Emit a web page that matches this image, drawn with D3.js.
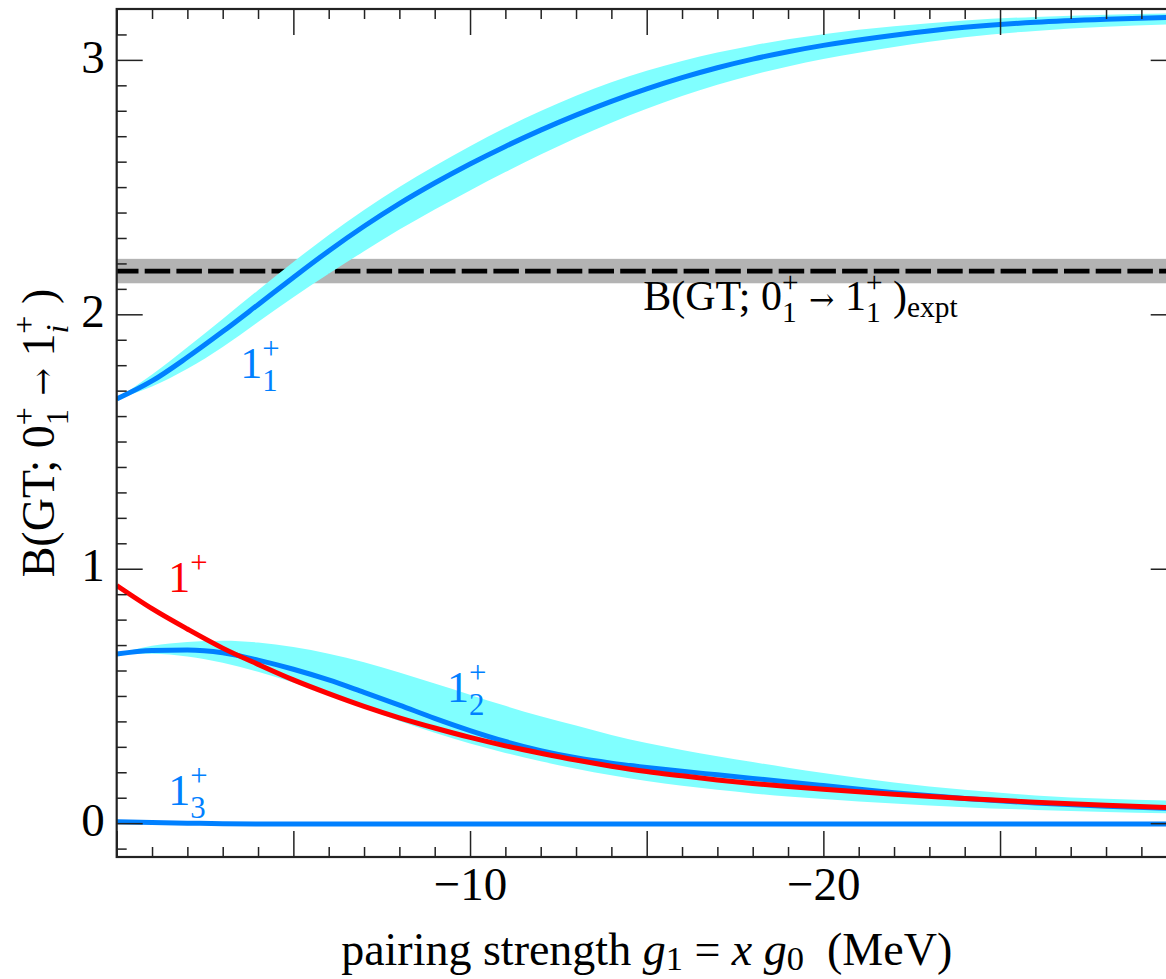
<!DOCTYPE html>
<html><head><meta charset="utf-8">
<script src="https://cdn.jsdelivr.net/npm/d3@7"></script>
<style>body{margin:0;background:#fff}svg{display:block}text{white-space:pre}</style>
</head><body><script>
// ---- data ----
const gValues = [0,-1,-2,-3,-4,-5,-6,-7,-8,-9,-10,-11,-12,-13,-14,-15,-16,-17,-18,-19,-20,-22,-24,-26,-28,-30];
// 1_1^+ (center, band upper, band lower)
const b11 = [1.667,1.738,1.831,1.932,2.038,2.145,2.249,2.346,2.435,2.516,2.591,2.660,2.724,2.783,2.837,2.886,2.930,2.969,3.003,3.032,3.057,3.097,3.128,3.148,3.160,3.168];
const b11Up = [1.667,1.763,1.871,1.982,2.095,2.206,2.312,2.410,2.500,2.583,2.661,2.733,2.799,2.859,2.912,2.957,2.996,3.029,3.057,3.081,3.101,3.132,3.155,3.169,3.177,3.183];
const b11Lo = [1.667,1.716,1.786,1.872,1.970,2.067,2.159,2.248,2.333,2.412,2.487,2.559,2.628,2.693,2.753,2.808,2.858,2.902,2.941,2.974,3.003,3.051,3.089,3.114,3.130,3.141];
// 1_2^+
const b12 = [0.665,0.679,0.681,0.670,0.641,0.605,0.563,0.514,0.464,0.412,0.364,0.321,0.285,0.257,0.236,0.219,0.204,0.190,0.176,0.162,0.148,0.120,0.097,0.079,0.066,0.057];
const b12Up = [0.665,0.697,0.712,0.717,0.710,0.692,0.666,0.632,0.592,0.549,0.505,0.461,0.420,0.384,0.347,0.315,0.288,0.263,0.240,0.218,0.197,0.160,0.131,0.109,0.096,0.088];
const b12Lo = [0.665,0.666,0.655,0.630,0.595,0.553,0.505,0.453,0.402,0.355,0.313,0.276,0.243,0.214,0.188,0.166,0.147,0.131,0.117,0.105,0.095,0.077,0.063,0.052,0.044,0.038];
// 1_3^+
const b13 = [0.006,0.003,0.000,-0.002,-0.003,-0.003,-0.003,-0.003,-0.003,-0.003,-0.003,-0.003,-0.003,-0.003,-0.003,-0.003,-0.003,-0.003,-0.003,-0.003,-0.003,-0.003,-0.003,-0.003,-0.003,-0.003];
// 1^+ (red)
const bRed = [0.934,0.843,0.763,0.688,0.624,0.563,0.509,0.459,0.414,0.374,0.337,0.304,0.275,0.248,0.224,0.203,0.186,0.170,0.156,0.144,0.133,0.114,0.097,0.082,0.070,0.060];
// experiment
const bExpt = 2.17, bExptErr = 0.048;
// ticks
const xMajorTicks = [0,-5,-10,-15,-20,-25,-30];
const xLabelTicks = [-10,-20];
const yMajorTicks = [0,1,2,3];

// ---- layout ----
const W=1166,H=979;
const L=116.7,R=1176.7,T=9,B=857;
const FONT="'Liberation Serif','Times New Roman',serif";
const svg=d3.select('body').append('svg').attr('width',W).attr('height',H)
  .style('font-family',FONT);
const x=d3.scaleLinear().domain([0,-30]).range([L,R]);
const y=d3.scaleLinear().domain([-0.133,3.2]).range([B,T]);

svg.append('clipPath').attr('id','clip').append('rect')
  .attr('x',L).attr('y',T).attr('width',R-L).attr('height',B-T);
const plot=svg.append('g').attr('clip-path','url(#clip)');

const rows=(c,u,l)=>gValues.map((g,i)=>({g,c:c[i],u:u?u[i]:null,l:l?l[i]:null}));

// experimental band + dashed line
plot.append('rect').attr('x',L).attr('width',R-L)
  .attr('y',y(bExpt+bExptErr)).attr('height',y(bExpt-bExptErr)-y(bExpt+bExptErr))
  .attr('fill','#b3b3b3');
plot.append('line').attr('x1',L-3.7).attr('x2',R).attr('y1',y(bExpt)).attr('y2',y(bExpt))
  .attr('stroke','#000').attr('stroke-width',4.8).attr('stroke-dasharray','25.5,6.2');

const area=d3.area().x(d=>x(d.g)).y0(d=>y(d.l)).y1(d=>y(d.u)).curve(d3.curveMonotoneX);
const line=d3.line().x(d=>x(d.g)).y(d=>y(d.c)).curve(d3.curveMonotoneX);
const CYAN='#80ffff',BLUE='#0080ff',RED='#ff0000';

plot.append('path').datum(rows(b11,b11Up,b11Lo)).attr('d',area).attr('fill',CYAN);
plot.append('path').datum(rows(b12,b12Up,b12Lo)).attr('d',area).attr('fill',CYAN);
plot.append('path').datum(rows(b13)).attr('d',line).attr('fill','none').attr('stroke',BLUE).attr('stroke-width',5);
plot.append('path').datum(rows(b12)).attr('d',line).attr('fill','none').attr('stroke',BLUE).attr('stroke-width',5);
plot.append('path').datum(rows(bRed)).attr('d',line).attr('fill','none').attr('stroke',RED).attr('stroke-width',5);
plot.append('path').datum(rows(b11)).attr('d',line).attr('fill','none').attr('stroke',BLUE).attr('stroke-width',5);

// ---- axes ----
const TF=47;
const xMinor=d3.range(0,-31,-1).filter(v=>v%5!==0);
const yMinor=d3.range(-1,33).map(v=>v/10).filter(v=>Math.abs(v-Math.round(v))>1e-6 && v>-0.133 && v<3.2);
function style(g){
  g.select('.domain').remove();
  g.selectAll('.tick line').attr('stroke','#222').attr('stroke-width',1.5);
  g.selectAll('text').attr('font-size',TF).attr('font-family',FONT).attr('fill','#000');
}
const fmtX=d=>xLabelTicks.includes(d)?d3.format('d')(d):'';
svg.append('g').attr('transform',`translate(0,${B})`)
  .call(d3.axisBottom(x).tickValues(xMajorTicks).tickSize(-26).tickPadding(10).tickFormat(fmtX)).call(style);
svg.append('g').attr('transform',`translate(0,${B})`)
  .call(d3.axisBottom(x).tickValues(xMinor).tickSize(-10).tickFormat('')).call(style);
svg.append('g').attr('transform',`translate(0,${T})`)
  .call(d3.axisTop(x).tickValues(xMajorTicks).tickSize(-26).tickFormat('')).call(style);
svg.append('g').attr('transform',`translate(0,${T})`)
  .call(d3.axisTop(x).tickValues(xMinor).tickSize(-10).tickFormat('')).call(style);
const yl=svg.append('g').attr('transform',`translate(${L},0)`)
  .call(d3.axisLeft(y).tickValues(yMajorTicks).tickSize(-26).tickPadding(12).tickFormat(d3.format('d'))).call(style);
yl.selectAll('text').attr('dy','0.26em');
svg.append('g').attr('transform',`translate(${L},0)`)
  .call(d3.axisLeft(y).tickValues(yMinor).tickSize(-10).tickFormat('')).call(style);
svg.append('g').attr('transform',`translate(${R},0)`)
  .call(d3.axisRight(y).tickValues(yMajorTicks).tickSize(-26).tickFormat('')).call(style);
svg.append('g').attr('transform',`translate(${R},0)`)
  .call(d3.axisRight(y).tickValues(yMinor).tickSize(-10).tickFormat('')).call(style);

// frame
svg.append('rect').attr('x',L).attr('y',T).attr('width',R-L).attr('height',B-T)
  .attr('fill','none').attr('stroke','#222').attr('stroke-width',2.2);

// ---- rich text helper ----
function rich(t,parts,fs){
  let cur=0;
  parts.forEach(p=>{
    let off=0,size=fs;
    if(p.s==='sub'){off=fs*(p.sh!=null?p.sh:0.3);size=fs*(p.sz||0.7);}
    if(p.s==='sup'){off=-fs*0.42;size=fs*0.7;}
    if(p.sz && !p.s) size=fs*p.sz;
    const ts=t.append('tspan').attr('dy',off-cur).attr('font-size',size).text(p.t);
    if(p.dx) ts.attr('dx',p.dx*fs);
    if(p.it) ts.attr('font-style','italic');
    if(p.ff) ts.attr('font-family',p.ff);
    cur=off;
  });
}
const ARROW={t:'→',ff:"'DejaVu Serif',serif",sz:0.72};
const AF=44;
function label(gv,val,color,parts,fs){
  const t=svg.append('text').attr('x',x(gv)).attr('y',y(val)).attr('fill',color).attr('font-size',fs||AF);
  rich(t,parts,fs||AF);
  return t;
}
label(-3.5,1.75,BLUE,[{t:'1'},{t:'1',s:'sub'},{t:'+',s:'sup',dx:-0.35}]);
label(-1.46,0.91,RED,[{t:'1'},{t:'+',s:'sup'}]);
label(-9.35,0.477,BLUE,[{t:'1'},{t:'2',s:'sub'},{t:'+',s:'sup',dx:-0.35}]);
label(-1.46,0.072,BLUE,[{t:'1'},{t:'3',s:'sub'},{t:'+',s:'sup',dx:-0.35}]);
label(-14.9,2.018,'#000',[{t:'B(GT; 0'},{t:'1',s:'sub'},{t:'+',s:'sup',dx:-0.35},{t:' '},ARROW,{t:' 1'},{t:'1',s:'sub'},{t:'+',s:'sup',dx:-0.35},{t:' )'},{t:'expt',s:'sub',sh:0.18}],42);

// axis titles
const xt=svg.append('text').attr('x',(L+R)/2).attr('y',965).attr('text-anchor','middle').attr('font-size',46);
rich(xt,[{t:'pairing strength '},{t:'g',it:true},{t:'1',s:'sub',sh:0.1,sz:0.75},{t:' = '},{t:'x',it:true},{t:' '},{t:'g',it:true},{t:'0',s:'sub',sh:0.1,sz:0.75},{t:'  (MeV)'}],46);
const yt=svg.append('text').attr('transform',`translate(54,${(T+B)/2}) rotate(-90)`).attr('text-anchor','middle').attr('font-size',46);
rich(yt,[{t:'B(GT; 0'},{t:'1',s:'sub'},{t:'+',s:'sup',dx:-0.35},{t:' '},ARROW,{t:' 1'},{t:'i',s:'sub',it:true},{t:'+',s:'sup',dx:-0.2},{t:' )'}],46);
</script></body></html>
